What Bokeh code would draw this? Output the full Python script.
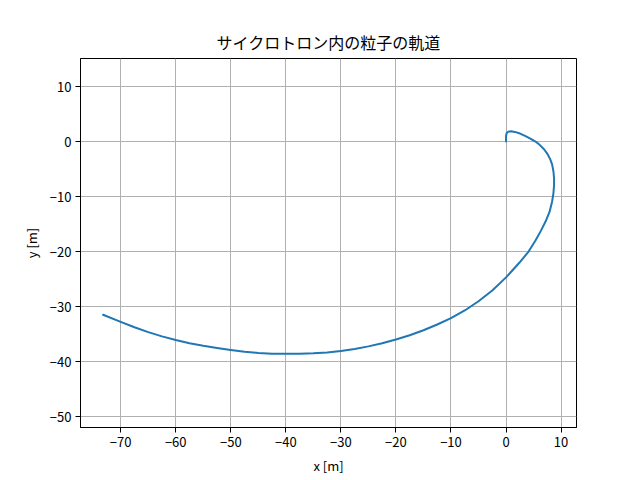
from bokeh.plotting import figure
from bokeh.models import Range1d, FixedTicker, CustomJSTickFormatter
from bokeh.embed import file_html
from bokeh.resources import INLINE

# Trajectory points (metres), in path order
x_vals = [0.0, 0.0, 0.1, 0.4, 0.9, 1.6, 2.55, 3.55, 4.5, 5.35, 6.1, 6.9, 7.55,
          8.02, 8.38, 8.62, 8.73, 8.72, 8.6, 8.35, 7.9, 7.2, 6.35, 5.35, 4.1,
          2.45, 1.1, 0.0, -2.5, -5.0, -7.5, -10.0, -12.5, -15.0, -17.5, -20.0,
          -22.5, -25.0, -27.5, -30.0, -32.5, -35.0, -37.5, -40.0, -42.5, -45.0,
          -47.5, -50.0, -52.5, -55.0, -57.5, -60.0, -62.5, -65.0, -67.5, -70.0,
          -73.2]
y_vals = [0.0, 1.0, 1.5, 1.8, 1.88, 1.75, 1.45, 1.0, 0.5, 0.0, -0.6, -1.4, -2.3,
          -3.2, -4.2, -5.5, -6.8, -8.0, -9.5, -11.0, -12.8, -14.5, -16.2, -18.0,
          -20.0, -22.0, -23.5, -24.7, -27.1, -29.05, -30.72, -32.1, -33.27,
          -34.32, -35.22, -36.0, -36.68, -37.25, -37.72, -38.1, -38.35, -38.52,
          -38.6, -38.6, -38.58, -38.45, -38.23, -37.9, -37.55, -37.15, -36.68,
          -36.1, -35.43, -34.65, -33.78, -32.8, -31.5]

x_ticks = [-70, -60, -50, -40, -30, -20, -10, 0, 10]
y_ticks = [-50, -40, -30, -20, -10, 0, 10]

title_text = "サイクロトロン内の粒子の軌道"
x_label = "x [m]"
y_label = "y [m]"

FONT = "Noto Sans CJK JP"

p = figure(width=640, height=480, output_backend="svg", toolbar_location=None,
           x_range=Range1d(-77.3, 12.8), y_range=Range1d(-52.0, 15.1),
           title=title_text,
           min_border_left=80, min_border_right=64,
           min_border_top=58, min_border_bottom=53)

p.line(x_vals, y_vals, line_color="#1f77b4", line_width=2,
       line_join="round", line_cap="round")

p.title.align = "center"
p.title.text_font = FONT
p.title.text_font_size = "16px"
p.title.text_font_style = "normal"
p.title.text_color = "black"

fmt = CustomJSTickFormatter(code="return String(tick).replace('-', '\u2212');")

for ax, ticks, lab in ((p.xaxis[0], x_ticks, x_label), (p.yaxis[0], y_ticks, y_label)):
    ax.ticker = FixedTicker(ticks=ticks)
    ax.formatter = fmt
    ax.axis_label = lab
    ax.axis_label_text_font = FONT
    ax.axis_label_text_font_size = "13px"
    ax.axis_label_text_font_style = "normal"
    ax.axis_label_text_color = "black"
    ax.major_label_text_font = FONT
    ax.major_label_text_font_size = "13px"
    ax.major_label_text_color = "black"
    ax.major_tick_in = 0
    ax.major_tick_out = 5
    ax.minor_tick_in = 0
    ax.minor_tick_out = 0
    ax.axis_line_color = "black"
    ax.major_tick_line_color = "black"
    ax.axis_label_standoff = 6
    ax.major_label_standoff = 4

for g in (p.xgrid[0], p.ygrid[0]):
    g.grid_line_color = "#b0b0b0"
    g.grid_line_width = 1

p.xgrid[0].ticker = FixedTicker(ticks=x_ticks)
p.ygrid[0].ticker = FixedTicker(ticks=y_ticks)

p.outline_line_color = "black"
p.outline_line_width = 1
p.outline_line_alpha = 1
p.background_fill_color = "white"
p.border_fill_color = "white"

open("out.html", "w").write(file_html(p, INLINE))
